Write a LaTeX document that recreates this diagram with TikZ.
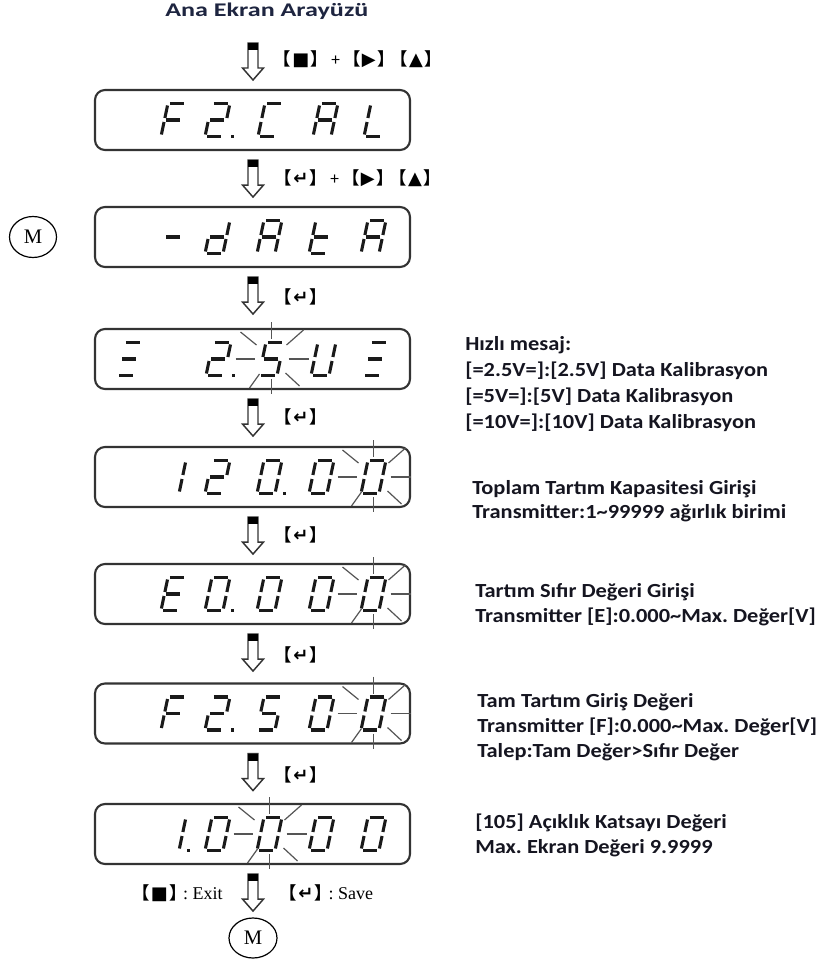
\documentclass[tikz,border=0pt]{standalone}
\usepackage{fontspec}
\setmainfont{Carlito}
\newfontfamily\rfont{Carlito}[FakeStretch=1.12]
\newfontfamily\tfont{Carlito}[FakeStretch=1.35]
\newfontfamily\cjk{Noto Sans CJK SC}
\newfontfamily\djv{DejaVu Sans}
\newfontfamily\tms{Liberation Serif}
\usetikzlibrary{calc,shapes.geometric}
\definecolor{segcol}{HTML}{1A1A1A}
\definecolor{boxcol}{HTML}{333333}
\definecolor{raycol}{HTML}{555555}
\definecolor{txtcol}{HTML}{151520}
\definecolor{titcol}{HTML}{1E2540}
\tikzset{
  segline/.style={line width=2.3pt, draw=segcol, line cap=butt},
  rayline/.style={line width=0.9pt, draw=raycol},
  dispbox/.style={draw=boxcol, line width=1.6pt, rounded corners=7.5pt,
    minimum width=236.25pt, minimum height=45pt, inner sep=0pt},
  arrline/.style={draw=boxcol, line width=1.1pt, fill=white},
  downarr/.pic={
    \draw[arrline] (-5,0) -- (5,0) -- (5,25) -- (10.5,25) -- (0,37) -- (-10.5,25) -- (-5,25) -- cycle;
    \fill[black] (-5,0) rectangle (5,7);
  },
  keylbl/.style={inner sep=0pt, font=\fontsize{13}{15}\selectfont, text=black},
  rtxt/.style={anchor=base west, inner sep=0pt, font=\rfont\bfseries\fontsize{15}{18}\selectfont, text=txtcol},
  mcirc/.style={draw=black, line width=0.9pt, ellipse, inner sep=0pt,
    font=\tms\fontsize{15.5}{15.5}\selectfont},
}
\def\zzS{0.21}
\newcommand\zseg[4]{\draw[segline] ({\zzX+#1+\zzS*#2},{\zzY-#2}) -- ({\zzX+#3+\zzS*#4},{\zzY-#4});}
\def\sgA{\zseg{2}{33}{16}{33}}
\def\sgB{\zseg{18}{31}{18}{18.5}}
\def\sgC{\zseg{18}{14.5}{18}{2}}
\def\sgD{\zseg{2}{0}{16}{0}}
\def\sgE{\zseg{0}{14.5}{0}{2}}
\def\sgF{\zseg{0}{31}{0}{18.5}}
\def\sgG{\zseg{2}{16.5}{16}{16.5}}
\def\sgDot{\fill[segcol] ({\zzX+26},{\zzY-1.6}) rectangle ({\zzX+29.2},{\zzY+1.6});}
\def\gZero{\sgA\sgB\sgC\sgD\sgE\sgF}
\def\gOne{\sgB\sgC}
\def\gTwo{\sgA\sgB\sgG\sgE\sgD}
\def\gFive{\sgA\sgF\sgG\sgC\sgD}
\def\gAA{\sgA\sgB\sgC\sgE\sgF\sgG}
\def\gCC{\sgA\sgD\sgE\sgF}
\def\gLL{\sgD\sgE\sgF}
\def\gEE{\sgA\sgD\sgE\sgF\sgG}
\def\gFF{\sgA\sgE\sgF\sgG}
\def\gdd{\sgB\sgC\sgD\sgE\sgG}
\def\gtt{\sgD\sgE\sgF\sgG}
\def\gUU{\sgB\sgC\sgD\sgE\sgF}
\def\gXi{\sgA\sgG\sgD}
\def\gMinus{\sgG}
\newcommand\putch[3]{\def\zzX{#1}\def\zzY{#2}#3}
\newcommand\zblink[2]{%
  \draw[rayline] ({#1-36},{#2}) -- ({#1-17},{#2});
  \draw[rayline] ({#1+17},{#2}) -- ({#1+37},{#2});
  \draw[rayline] ({#1},{#2-37}) -- ({#1},{#2-20});
  \draw[rayline] ({#1},{#2+20}) -- ({#1},{#2+35});
  \draw[rayline] ({#1-31},{#2-27}) -- ({#1-15},{#2-14});
  \draw[rayline] ({#1+32},{#2-29}) -- ({#1+15},{#2-14});
  \draw[rayline] ({#1-22},{#2+29}) -- ({#1-12},{#2+15});
  \draw[rayline] ({#1+28},{#2+27}) -- ({#1+14},{#2+14});
}
\newcommand\kb[1]{{\cjk\bfseries\hspace{-0.5em}【}\hspace{1pt}{\djv\bfseries\fontsize{13.5}{13.5}\selectfont #1}\hspace{1pt}{\cjk\bfseries 】\hspace{-0.5em}}}
\newcommand\kplus{\hspace{9pt}{\fontsize{13}{15}\selectfont +}\hspace{9pt}}
\newcommand\kgap{\hspace{10pt}}
\begin{document}
\frenchspacing
\begin{tikzpicture}[x=0.75pt,y=-0.75pt]
\useasboundingbox (0,0) rectangle (826,962);
% title
\node[anchor=base west, inner sep=0pt, font=\tfont\bfseries\fontsize{14.5}{17}\selectfont, text=titcol] (title) at (165,17) {Ana Ekran Arayüzü};
% boxes
\node[dispbox] (d1) at (252.5,120) {};
\node[dispbox] (d2) at (252.5,237) {};
\node[dispbox] (d3) at (252.5,359) {};
\node[dispbox] (d4) at (252.5,477) {};
\node[dispbox] (d5) at (252.5,594) {};
\node[dispbox] (d6) at (252.5,713.5) {};
\node[dispbox] (d7) at (252.5,834) {};
% M circles
\node[mcirc, minimum width=35.25pt, minimum height=30.75pt] (m1) at (33,237) {M};
\node[mcirc, minimum width=36pt, minimum height=30pt] (m2) at (253,938) {M};
% arrows
\pic (a1) at (253,43) {downarr};
\pic (a2) at ($(d1.south)+(0.5,9)$) {downarr};
\pic (a3) at ($(d2.south)+(0.5,9)$) {downarr};
\pic (a4) at ($(d3.south)+(0.5,9)$) {downarr};
\pic (a5) at ($(d4.south)+(0.5,9)$) {downarr};
\pic (a6) at ($(d5.south)+(0.5,9)$) {downarr};
\pic (a7) at ($(d6.south)+(0.5,9)$) {downarr};
\pic (a8) at ($(d7.south)+(0.5,9)$) {downarr};
% key labels
\node[keylbl, anchor=west] (k1) at (282,59) {\kb{■}\kplus\kb{▶}\kgap\kb{▲}};
\node[keylbl, anchor=west] (k2) at (283,178) {\kb{↵}\kplus\kb{▶}\kgap\kb{▲}};
\node[keylbl, anchor=west] (k3) at (283,297) {\kb{↵}};
\node[keylbl, anchor=west] (k4) at (283,417) {\kb{↵}};
\node[keylbl, anchor=west] (k5) at (283,535) {\kb{↵}};
\node[keylbl, anchor=west] (k6) at (283,655) {\kb{↵}};
\node[keylbl, anchor=west] (k7) at (283,775) {\kb{↵}};
\node[keylbl, anchor=east] (kexit) at (223,893) {\kb{■}\hspace{4pt}{\tms\fontsize{13.5}{13.5}\selectfont : Exit}};
\node[keylbl, anchor=west] (ksave) at (288,893) {\kb{↵}\hspace{4pt}{\tms\fontsize{13.5}{13.5}\selectfont : Save}};
% blink rays
\zblink{271.5}{359}
\zblink{373.5}{477}
\zblink{373.5}{594}
\zblink{373.5}{713.5}
\zblink{269.5}{834}
% display 1: F2.CAL
\putch{161}{136.5}{\gFF}
\putch{205}{136.5}{\gTwo\sgDot}
\putch{258}{136.5}{\gCC}
\putch{313}{136.5}{\gAA}
\putch{364}{136.5}{\gLL}
% display 2: -dAtA
\putch{161}{253.5}{\gMinus}
\putch{205}{253.5}{\gdd}
\putch{257}{253.5}{\gAA}
\putch{309}{253.5}{\gtt}
\putch{361}{253.5}{\gAA}
% display 3
\putch{117}{375.5}{\gXi}
\putch{206}{375.5}{\gTwo\sgDot}
\putch{259}{375.5}{\gFive}
\putch{311}{375.5}{\gUU}
\putch{363}{375.5}{\gXi}
% display 4: 120.00
\putch{161}{493.5}{\gOne}
\putch{205}{493.5}{\gTwo}
\putch{257}{493.5}{\gZero\sgDot}
\putch{309}{493.5}{\gZero}
\putch{361}{493.5}{\gZero}
% display 5: E0.000
\putch{161}{610.5}{\gEE}
\putch{205}{610.5}{\gZero\sgDot}
\putch{257}{610.5}{\gZero}
\putch{309}{610.5}{\gZero}
\putch{361}{610.5}{\gZero}
% display 6: F2.500
\putch{161}{730}{\gFF}
\putch{205}{730}{\gTwo\sgDot}
\putch{257}{730}{\gFive}
\putch{309}{730}{\gZero}
\putch{361}{730}{\gZero}
% display 7: 1.0000
\putch{161}{850.5}{\gOne\sgDot}
\putch{205}{850.5}{\gZero}
\putch{257}{850.5}{\gZero}
\putch{309}{850.5}{\gZero}
\putch{361}{850.5}{\gZero}
% right texts
\node[rtxt] (t11) at (465,350) {Hızlı mesaj:};
\node[rtxt] (t12) at (465,376) {[=2.5V=]:[2.5V] Data Kalibrasyon};
\node[rtxt] (t13) at (465,402) {[=5V=]:[5V] Data Kalibrasyon};
\node[rtxt] (t14) at (465,428) {[=10V=]:[10V] Data Kalibrasyon};
\node[rtxt] (t21) at (472,494) {Toplam Tartım Kapasitesi Girişi};
\node[rtxt] (t22) at (472,518) {Transmitter:1\textasciitilde 99999 ağırlık birimi};
\node[rtxt] (t31) at (475,597) {Tartım Sıfır Değeri Girişi};
\node[rtxt] (t32) at (475,622) {Transmitter [E]:0.000\textasciitilde Max. Değer[V]};
\node[rtxt] (t41) at (477,707) {Tam Tartım Giriş Değeri};
\node[rtxt] (t42) at (477,732) {Transmitter [F]:0.000\textasciitilde Max. Değer[V]};
\node[rtxt] (t43) at (477,757) {Talep:Tam Değer>Sıfır Değer};
\node[rtxt] (t51) at (475,828) {[105] Açıklık Katsayı Değeri};
\node[rtxt] (t52) at (475,853) {Max. Ekran Değeri 9.9999};
\end{tikzpicture}
\end{document}
